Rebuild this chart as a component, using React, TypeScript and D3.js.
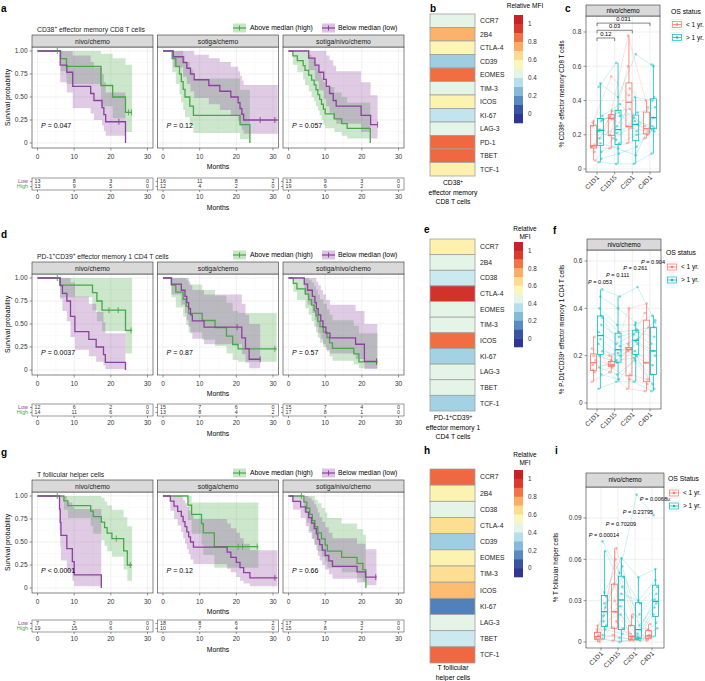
import React from "react";
import * as d3 from "d3";

const FONT = "'Liberation Sans', Arial, Helvetica, sans-serif";
const GREEN = "#47a847";
const PURPLE = "#8e3f9f";
const RED = "#F8766D";
const TEAL = "#00BFC4";
const DARK = "#333333";

// [months, survival, lower CI, upper CI]
type Step = [number, number, number, number];
type Curve = { steps: Step[]; end: number; censor: number[] };

const TREATMENTS = ["nivo/chemo", "sotiga/chemo", "sotiga/nivo/chemo"];
const MONTH_TICKS = [0, 10, 20, 30];

// ---------- a: CD38+ effector memory CD8 T cells
const aNivoHigh: Curve = { steps: [[6.3, .917, .78, 1], [7.9, .833, .64, 1], [17.3, .625, .4, .97], [20.5, .5, .27, .92], [24, .333, .12, .85]], end: 25.8, censor: [5.4, 24.8, 25.6] };
const aNivoLow: Curve = { steps: [[6.2, .846, .66, 1], [8, .769, .55, 1], [9.6, .615, .38, .95], [14.5, .538, .32, .88], [15.4, .462, .25, .82], [17.6, .385, .19, .75], [18.1, .308, .13, .66], [18.6, .231, .08, .55], [24, 0, 0, 0]], end: 24, censor: [22.2] };
const aSotHigh: Curve = { steps: [[2.5, .917, .77, 1], [3.5, .833, .64, 1], [4.5, .75, .53, 1], [5, .667, .44, 1], [5.5, .583, .36, .95], [6, .5, .28, .88], [7.3, .4, .19, .8], [8.3, .3, .11, .7], [21, .2, .04, .58], [23.7, 0, 0, 0]], end: 23.7, censor: [] };
const aSotLow: Curve = { steps: [[2.8, .9375, .82, 1], [5.5, .875, .72, 1], [6.5, .8125, .64, 1], [7.5, .75, .56, 1], [8.5, .6875, .49, .96], [12.5, .625, .42, .92], [15.5, .5625, .36, .88], [18.5, .5, .3, .83], [20.5, .4375, .24, .78], [21, .375, .19, .73], [21.5, .3125, .14, .68], [22, .25, .1, .63]], end: 31.3, censor: [26.5, 30.5] };
const aSnHigh: Curve = { steps: [[1.2, .947, .85, 1], [2.4, .895, .77, 1], [4, .842, .69, 1], [4.5, .789, .63, .99], [5.5, .737, .56, .96], [6.3, .684, .5, .93], [7, .632, .45, .89], [7.5, .579, .4, .85], [8, .526, .35, .8], [8.5, .474, .3, .76], [9, .421, .25, .71], [9.5, .368, .2, .66], [10, .316, .16, .61], [12.5, .263, .12, .55], [14.5, .21, .08, .5], [16, .158, .05, .44], [22.3, 0, 0, 0]], end: 22.3, censor: [] };
const aSnLow: Curve = { steps: [[5.5, .923, .79, 1], [7.2, .846, .67, 1], [8.3, .769, .57, 1], [9.6, .692, .48, 1], [10.3, .615, .4, .95], [11.2, .538, .33, .9], [12.2, .462, .26, .84], [13, .4, .21, .78], [19.8, .3, .12, .66], [22.4, .2, .05, .52]], end: 24.3, censor: [24.3] };

// ---------- d: PD-1+CD39+ effector memory 1 CD4 T cells
const dNivoHigh: Curve = { steps: [[6.1, .923, .79, 1], [15, .84, .65, 1], [16.2, .75, .53, 1], [17.6, .65, .42, 1], [24, .43, .18, 1]], end: 25.8, censor: [5.4, 19.5, 22, 25.5] };
const dNivoLow: Curve = { steps: [[6.2, .917, .77, 1], [6.8, .833, .64, 1], [8, .75, .53, 1], [9, .583, .36, .95], [10.2, .417, .22, .8], [14, .333, .15, .72], [16, .25, .09, .63], [18, .167, .05, .52], [18.5, .083, .01, .4], [24, 0, 0, 0]], end: 24, censor: [] };
const dSotHigh: Curve = { steps: [[2.3, .923, .79, 1], [3.5, .846, .68, 1], [5.5, .769, .58, 1], [6.3, .692, .49, .98], [7, .615, .41, .93], [10.7, .538, .33, .87], [14.2, .461, .26, .81], [17.3, .369, .18, .73], [19, .277, .11, .64], [20.5, .23, .09, .62]], end: 31, censor: [30.5] };
const dSotLow: Curve = { steps: [[2.3, .933, .82, 1], [5, .867, .71, 1], [6, .8, .62, 1], [6.5, .733, .54, 1], [7, .667, .47, .96], [7.5, .6, .4, .92], [8, .533, .34, .87], [11.2, .467, .28, .82], [21.5, .35, .17, .72], [22.5, .233, .08, .6], [23.5, .117, .02, .5]], end: 26.5, censor: [20.2, 26.5] };
const dSnHigh: Curve = { steps: [[1.3, .941, .85, 1], [2.3, .882, .76, 1], [4.6, .824, .67, 1], [5.5, .765, .6, .98], [6.3, .706, .53, .95], [7, .647, .47, .91], [7.5, .588, .41, .87], [8, .529, .35, .82], [8.6, .471, .3, .77], [9.5, .412, .25, .72], [10.5, .353, .2, .66], [11.2, .294, .15, .6], [12, .235, .1, .54], [17.8, .176, .06, .48], [19.2, .088, .02, .4]], end: 24.3, censor: [24] };
const dSnLow: Curve = { steps: [[4.3, .933, .82, 1], [5.2, .867, .71, 1], [6.5, .8, .62, 1], [7.2, .733, .54, 1], [7.6, .667, .47, .96], [8.1, .6, .4, .92], [8.8, .533, .34, .87], [9.4, .467, .28, .82], [10.2, .4, .22, .76], [11.3, .35, .18, .71], [18.3, .28, .12, .64], [20.7, .093, .01, .5]], end: 24.2, censor: [24] };

// ---------- g: T follicular helper cells
const gNivoHigh: Curve = { steps: [[7.2, .947, .85, 1], [8.3, .895, .76, 1], [14.5, .835, .67, 1], [15.2, .776, .59, 1], [17.4, .716, .52, .98], [18.3, .656, .46, .94], [19, .597, .4, .9], [20.3, .537, .34, .85], [23.5, .403, .2, .77], [24.5, .25, .08, .67]], end: 25.8, censor: [5.4, 21.5, 25.3] };
const gNivoLow: Curve = { steps: [[6, .857, .63, 1], [6.2, .714, .45, 1], [6.4, .571, .3, 1], [8, .429, .18, .93], [9.5, .286, .08, .88], [10, .143, .02, .86], [17.4, 0, 0, 0]], end: 17.4, censor: [] };
const gSotHigh: Curve = { steps: [[6.8, .9, .74, 1], [7.8, .8, .59, .93], [10.5, .7, .47, .93], [11, .6, .36, .93], [14, .45, .22, .93]], end: 26, censor: [20.5, 21.7, 25.7] };
const gSotLow: Curve = { steps: [[2, .944, .84, 1], [3, .889, .75, 1], [4, .833, .68, 1], [5, .778, .61, .99], [5.5, .722, .54, .96], [6, .667, .48, .92], [6.5, .611, .42, .88], [7, .556, .37, .84], [7.5, .5, .31, .8], [8.3, .444, .26, .75], [17.5, .389, .21, .7], [18.5, .333, .17, .65], [20, .278, .12, .6], [21, .222, .08, .54], [22, .167, .05, .48], [23.7, .111, .02, .41]], end: 31.2, censor: [30.5] };
const gSnHigh: Curve = { steps: [[4.2, .933, .82, 1], [5, .867, .71, 1], [5.8, .8, .62, 1], [6.5, .733, .54, 1], [7.2, .667, .47, .96], [8, .6, .4, .92], [9, .533, .34, .87], [10, .467, .28, .82], [10.6, .4, .22, .76], [14.5, .333, .17, .7], [18.7, .267, .11, .64], [20.3, .2, .07, .58], [21.1, 0, 0, 0]], end: 21.1, censor: [3.5] };
const gSnLow: Curve = { steps: [[1.2, .941, .85, 1], [3.3, .882, .76, 1], [4.7, .824, .67, 1], [5.5, .765, .6, .98], [6.3, .706, .53, .95], [7, .647, .47, .91], [7.6, .588, .41, .87], [8, .529, .35, .82], [8.5, .471, .3, .77], [9.2, .412, .25, .72], [10, .353, .2, .66], [11, .294, .15, .6], [12, .235, .1, .54], [18.7, .176, .06, .48], [21, .118, .03, .42]], end: 24, censor: [23.8] };

// number at risk [low, high] at 0/10/20/30 months
const riskA = [[[13, 8, 3, 0], [13, 9, 5, 0]], [[16, 11, 8, 2], [12, 4, 2, 0]], [[13, 9, 3, 0], [19, 6, 2, 0]]];
const riskD = [[[12, 6, 2, 0], [14, 11, 6, 0]], [[15, 7, 6, 0], [13, 8, 4, 2]], [[15, 7, 4, 0], [17, 8, 1, 0]]];
const riskG = [[[7, 2, 0, 0], [19, 15, 6, 0]], [[18, 8, 6, 2], [10, 7, 4, 0]], [[17, 7, 3, 0], [15, 8, 2, 0]]];

const pA = ["= 0.047", "= 0.12", "= 0.057"];
const pD = ["= 0.0037", "= 0.87", "= 0.57"];
const pG = ["< 0.0001", "= 0.12", "= 0.66"];

// ---------- heatmaps (relative MFI)
const markersB = ["CCR7", "2B4", "CTLA-4", "CD39", "EOMES", "TIM-3", "ICOS", "KI-67", "LAG-3", "PD-1", "TBET", "TCF-1"];
const mfiB = [0.45, 0.74, 0.56, 0.3, 0.86, 0.45, 0.57, 0.37, 0.45, 0.87, 0.87, 0.58];
const markersE = ["CCR7", "2B4", "CD38", "CTLA-4", "EOMES", "TIM-3", "ICOS", "KI-67", "LAG-3", "TBET", "TCF-1"];
const mfiE = [0.58, 0.45, 0.39, 0.97, 0.45, 0.45, 0.86, 0.31, 0.45, 0.45, 0.31];
const markersH = ["CCR7", "2B4", "CD38", "CTLA-4", "CD39", "EOMES", "TIM-3", "ICOS", "KI-67", "LAG-3", "TBET", "TCF-1"];
const mfiH = [0.87, 0.57, 0.45, 0.64, 0.3, 0.57, 0.64, 0.72, 0.13, 0.45, 0.39, 0.87];

// ---------- boxplots: per patient values at C1D1, C1D15, C2D1, C4D1
const TIMEPOINTS = ["C1D1", "C1D15", "C2D1", "C4D1"];
type Pat = (number | null)[];
const cUnder: Pat[] = [[0.13, 0.3, 0.25, 0.25], [0.14, 0.29, 0.47, 0.36], [0.25, 0.31, 0.78, 0.4], [0.05, 0.18, 0.24, 0.22], [0.28, 0.54, 0.43, null], [0.13, 0.12, 0.15, 0.18], [0.1, 0.34, 0.35, 0.2], [0.27, 0.2, 0.6, null]];
const cOver: Pat[] = [[0.04, 0.03, 0.03, 0.09], [0.1, 0.15, 0.2, 0.22], [0.23, 0.21, 0.28, 0.25], [0.29, 0.31, 0.33, 0.36], [0.5, 0.42, 0.67, 0.6], [0.48, 0.62, null, 0.61], [0.06, 0.09, 0.13, 0.24], [0.18, 0.25, 0.42, 0.4], [0.31, 0.38, 0.26, null], [0.15, 0.12, 0.08, 0.3], [0.22, 0.17, 0.3, 0.23], [0.28, 0.33, 0.22, 0.42]];
const fUnder: Pat[] = [[0.09, 0.13, 0.06, 0.05], [0.13, 0.15, 0.1, 0.08], [0.16, 0.16, 0.22, 0.17], [0.18, 0.16, 0.23, 0.32], [0.2, 0.18, 0.4, 0.42], [0.23, 0.2, 0.23, 0.38], [0.28, null, 0.12, 0.1], [0.14, 0.17, 0.25, null]];
const fOver: Pat[] = [[0.06, 0.09, 0.09, 0.05], [0.12, 0.1, 0.2, 0.06], [0.2, 0.17, 0.22, 0.16], [0.22, 0.2, 0.25, 0.2], [0.27, 0.21, 0.26, 0.22], [0.3, 0.25, 0.29, 0.25], [0.37, 0.3, 0.31, 0.32], [0.4, 0.33, 0.33, 0.37], [0.48, 0.45, 0.49, 0.34], [0.45, 0.4, 0.34, null], [0.25, 0.18, 0.19, 0.12], [0.33, 0.28, 0.3, 0.28], [0.15, 0.12, 0.18, 0.08], [0.36, 0.24, 0.27, 0.35]];
const iUnder: Pat[] = [[0.002, 0.005, 0.002, 0.002], [0.004, 0.022, 0.004, 0.005], [0.007, 0.042, 0.012, 0.009], [0.001, 0.068, 0.02, 0.013], [0.012, 0.03, 0.003, 0.004], [0.003, 0.001, 0.001, 0.001], [0.005, 0.06, 0.018, 0.008], [0.009, 0.01, 0.006, null], [0.0, 0.015, 0.001, 0.003]];
const iOver: Pat[] = [[0.002, 0.0, 0.002, 0.004], [0.009, 0.006, 0.003, 0.014], [0.019, 0.026, 0.006, 0.031], [0.033, 0.047, 0.028, 0.04], [0.036, 0.061, 0.047, 0.053], [0.073, 0.05, 0.107, 0.092], [0.066, 0.04, 0.02, 0.035], [0.015, 0.02, 0.004, 0.025], [0.012, 0.01, 0.001, 0.01], [0.028, 0.035, 0.03, 0.045], [0.005, 0.003, 0.002, 0.02], [0.025, 0.055, 0.012, 0.028]];

const cBrackets = [{ from: "C1D1", to: "C1D15", v: 0.765, label: "0.12" }, { from: "C1D1", to: "C2D1", v: 0.81, label: "0.03" }, { from: "C1D1", to: "C4D1", v: 0.852, label: "0.031" }];
const fPvals = [{ cat: "C1D1", v: 0.511, label: "0.053" }, { cat: "C1D15", v: 0.541, label: "0.111" }, { cat: "C2D1", v: 0.57, label: "0.261" }, { cat: "C4D1", v: 0.596, label: "0.904" }];
const iPvals = [{ cat: "C1D1", v: 0.0777, label: "0.00014" }, { cat: "C1D15", v: 0.0856, label: "0.70209" }, { cat: "C2D1", v: 0.0944, label: "0.23795" }, { cat: "C4D1", v: 0.1038, label: "0.00680" }];

const PANEL_X = [32, 157.5, 283];
const PW = 121;

// text with "^+" superscripts
function Rich({ text, ...props }: any) {
  const parts = text.split("^+");
  const out: any[] = [];
  parts.forEach((p: string, i: number) => {
    if (i > 0) out.push(<tspan key={"s" + i} dy={-2.2} fontSize="70%">+</tspan>);
    out.push(<tspan key={"t" + i} dy={i > 0 ? 2.2 : 0}>{p}</tspan>);
  });
  return <text {...props}>{out}</text>;
}

function KMKey({ x, y, color, fill }: any) {
  return (
    <g>
      <rect x={x} y={y - 4.5} width={13} height={9} fill={fill} />
      <line x1={x} x2={x + 13} y1={y} y2={y} stroke={color} strokeWidth={1.2} />
      <line x1={x + 6.5} x2={x + 6.5} y1={y - 2.5} y2={y + 2.5} stroke={color} strokeWidth={1} />
    </g>
  );
}

function KMRow({ off, tableTop, letter, letterY, title, curves, pvals, risk }: any) {
  const y = d3.scaleLinear().domain([0, 1]).range([143 + off, 51 + off]);
  const stripTop = 35 + off, plotTop = 47 + off, plotBottom = 148 + off;
  const yTicks = [0, 0.25, 0.5, 0.75, 1];
  const yMinor = [0.125, 0.375, 0.625, 0.875];
  const legY = 28 + off;
  return (
    <g>
      <text x={1} y={letterY} fontSize={10} fontWeight="bold">{letter}</text>
      <Rich x={37} y={off + 31.5} fontSize={6.8} fill="#222" text={title} />
      <KMKey x={233} y={legY} color={GREEN} fill="#c8e6c4" />
      <text x={250} y={legY + 2.4} fontSize={6.8}>Above median (high)</text>
      <KMKey x={322} y={legY} color={PURPLE} fill="#dcc3e3" />
      <text x={338} y={legY + 2.4} fontSize={6.8}>Below median (low)</text>
      <text transform={`translate(10,${(plotTop + plotBottom) / 2}) rotate(-90)`} textAnchor="middle" fontSize={6.8}>Survival probability</text>
      {yTicks.map((t) => (
        <g key={t}>
          <text x={PANEL_X[0] - 4.5} y={y(t) + 2.3} textAnchor="end" fontSize={6.5} fill="#333">{t === 0 ? "0" : t.toFixed(2)}</text>
          <line x1={PANEL_X[0] - 2.5} x2={PANEL_X[0]} y1={y(t)} y2={y(t)} stroke={DARK} strokeWidth={0.5} />
        </g>
      ))}
      <text x={PANEL_X[1] + PW / 2} y={plotBottom + 20.5} textAnchor="middle" fontSize={6.8}>Months</text>
      <text x={PANEL_X[1] + PW / 2} y={tableTop + 31.5} textAnchor="middle" fontSize={6.8}>Months</text>
      <text x={28} y={tableTop + 5} textAnchor="end" fontSize={5.5} fill={PURPLE}>Low</text>
      <text x={28} y={tableTop + 10.3} textAnchor="end" fontSize={5.5} fill={GREEN}>High</text>
      {TREATMENTS.map((tr, pi) => {
        const x0 = PANEL_X[pi];
        const x = d3.scaleLinear().domain([-1.5, 31.5]).range([x0, x0 + PW]);
        const [high, low] = curves[pi];
        const line = d3.line<number[]>().x((d) => x(d[0])).y((d) => y(d[1])).curve(d3.curveStepAfter);
        const area = d3.area<number[]>().x((d) => x(d[0])).y0((d) => y(d[1])).y1((d) => y(d[2])).curve(d3.curveStepAfter);
        const linePts = (c: Curve) => {
          const pts = [[0, 1], ...c.steps.map((s) => [s[0], s[1]])];
          const last = c.steps[c.steps.length - 1];
          if (last[1] > 0) pts.push([c.end, last[1]]);
          return pts;
        };
        const bandPts = (c: Curve) => {
          const st = c.steps.filter((s) => s[1] > 0);
          const pts = [[0, 1, 1], ...st.map((s) => [s[0], s[2], s[3]])];
          const last = pts[pts.length - 1];
          pts.push([c.end, last[1], last[2]]);
          return pts;
        };
        const censorMarks = (c: Curve, color: string) =>
          c.censor.map((t, k) => {
            let s = 1;
            c.steps.forEach((st) => { if (st[0] <= t) s = st[1]; });
            return <line key={k} x1={x(t)} x2={x(t)} y1={y(s) - 3} y2={y(s) + 3} stroke={color} strokeWidth={0.9} />;
          });
        return (
          <g key={tr}>
            <rect x={x0} y={plotTop} width={PW} height={plotBottom - plotTop} fill="#fff" />
            {[5, 15, 25].map((m) => <line key={"vm" + m} x1={x(m)} x2={x(m)} y1={plotTop} y2={plotBottom} stroke="#f3f3f3" strokeWidth={0.4} />)}
            {yMinor.map((m) => <line key={"hm" + m} x1={x0} x2={x0 + PW} y1={y(m)} y2={y(m)} stroke="#f3f3f3" strokeWidth={0.4} />)}
            {MONTH_TICKS.map((m) => <line key={"v" + m} x1={x(m)} x2={x(m)} y1={plotTop} y2={plotBottom} stroke="#e6e6e6" strokeWidth={0.6} />)}
            {yTicks.map((m) => <line key={"h" + m} x1={x0} x2={x0 + PW} y1={y(m)} y2={y(m)} stroke="#e6e6e6" strokeWidth={0.6} />)}
            <path d={area(bandPts(high)) || ""} fill={GREEN} fillOpacity={0.27} />
            <path d={area(bandPts(low)) || ""} fill={PURPLE} fillOpacity={0.27} />
            <path d={line(linePts(high)) || ""} fill="none" stroke={GREEN} strokeWidth={1.3} />
            <path d={line(linePts(low)) || ""} fill="none" stroke={PURPLE} strokeWidth={1.3} />
            {censorMarks(high, GREEN)}
            {censorMarks(low, PURPLE)}
            <text x={x0 + 9} y={y(0.16)} fontSize={7}>
              <tspan fontStyle="italic">P</tspan> {pvals[pi]}
            </text>
            <rect x={x0} y={plotTop} width={PW} height={plotBottom - plotTop} fill="none" stroke={DARK} strokeWidth={0.6} />
            <rect x={x0} y={stripTop} width={PW} height={plotTop - stripTop} fill="#d9d9d9" stroke={DARK} strokeWidth={0.6} />
            <text x={x0 + PW / 2} y={stripTop + 8.5} textAnchor="middle" fontSize={6.8} fill="#1a1a1a">{tr}</text>
            {MONTH_TICKS.map((m) => (
              <g key={"t" + m}>
                <line x1={x(m)} x2={x(m)} y1={plotBottom} y2={plotBottom + 2.5} stroke={DARK} strokeWidth={0.5} />
                <text x={x(m)} y={plotBottom + 10.5} textAnchor="middle" fontSize={6.5} fill="#333">{m}</text>
              </g>
            ))}
            <rect x={x0} y={tableTop} width={PW} height={12} fill="#fff" stroke="#555" strokeWidth={0.6} />
            <line x1={x0 - 2} x2={x0} y1={tableTop + 3.5} y2={tableTop + 3.5} stroke={DARK} strokeWidth={0.5} />
            <line x1={x0 - 2} x2={x0} y1={tableTop + 8.5} y2={tableTop + 8.5} stroke={DARK} strokeWidth={0.5} />
            {MONTH_TICKS.map((m, k) => (
              <g key={"r" + m}>
                <text x={x(m)} y={tableTop + 5} textAnchor="middle" fontSize={5.3} fill="#333">{risk[pi][0][k]}</text>
                <text x={x(m)} y={tableTop + 10.3} textAnchor="middle" fontSize={5.3} fill="#333">{risk[pi][1][k]}</text>
                <line x1={x(m)} x2={x(m)} y1={tableTop + 12} y2={tableTop + 14} stroke={DARK} strokeWidth={0.5} />
                <text x={x(m)} y={tableTop + 21} textAnchor="middle" fontSize={6.5} fill="#333">{m}</text>
              </g>
            ))}
          </g>
        );
      })}
    </g>
  );
}

// reversed RdYlBu, top end kept a little lighter than the darkest red
const mfiColor = (v: number) => d3.interpolateRdYlBu(1 - 0.93 * Math.max(0, Math.min(1, v)));

function Heatmap({ top, bottom, markers, values, caption, capY }: any) {
  const y = d3.scaleBand().domain(markers).range([top, bottom]);
  return (
    <g>
      {markers.map((m: string, i: number) => (
        <g key={m}>
          <rect x={430} y={y(m)} width={45} height={y.bandwidth()} fill={mfiColor(values[i])} stroke="#a0a0a0" strokeWidth={0.8} />
          <text x={480} y={(y(m) as number) + y.bandwidth() / 2 + 2.4} fontSize={6.8} fill="#222">{m}</text>
        </g>
      ))}
      {caption.map((c: string, i: number) => (
        <Rich key={i} x={453} y={capY + i * 9.5} textAnchor="middle" fontSize={6.8} text={c} />
      ))}
    </g>
  );
}

function ColorBar({ top, bottom, titles, titleY }: any) {
  const steps = d3.range(12).map((k) => 1.1 - k * 0.1);
  const y = d3.scaleLinear().domain([1.1, -0.1]).range([top, bottom]);
  return (
    <g>
      {titles.map((t: string, i: number) => (
        <text key={t} x={525} y={titleY + i * 8} textAnchor="middle" fontSize={6.5}>{t}</text>
      ))}
      {steps.map((s) => (
        <rect key={s} x={514} y={y(s)} width={9} height={y(s - 0.1) - y(s) + 0.3} fill={mfiColor(s - 0.05)} />
      ))}
      {[0, 0.2, 0.4, 0.6, 0.8, 1].map((t) => (
        <text key={t} x={528} y={y(t) + 2.3} fontSize={6.3} fill="#333">{t === 0 || t === 1 ? String(t) : t.toFixed(1)}</text>
      ))}
    </g>
  );
}

function boxStats(vals: number[]) {
  const s = vals.slice().sort(d3.ascending);
  const q1 = d3.quantile(s, 0.25) as number;
  const med = d3.quantile(s, 0.5) as number;
  const q3 = d3.quantile(s, 0.75) as number;
  const iqr = q3 - q1;
  const lo = d3.min(s.filter((v) => v >= q1 - 1.5 * iqr)) as number;
  const hi = d3.max(s.filter((v) => v <= q3 + 1.5 * iqr)) as number;
  return { q1, med, q3, lo, hi };
}

function BoxKey({ x, y, color }: any) {
  return (
    <g>
      <rect x={x} y={y - 5} width={12} height={10} fill="#fff" stroke="#ddd" strokeWidth={0.4} />
      <rect x={x + 1.5} y={y - 3} width={9} height={6} fill="none" stroke={color} strokeWidth={0.7} />
      <line x1={x + 1.5} x2={x + 10.5} y1={y} y2={y} stroke={color} strokeWidth={0.8} />
      <circle cx={x + 6} cy={y} r={1.2} fill={color} />
    </g>
  );
}

function BoxPanel({ c }: any) {
  const y = d3.scaleLinear().domain(c.domain).range(c.range);
  const x = d3.scalePoint<string>().domain(TIMEPOINTS).range(c.xRange);
  const groups = [
    { pats: c.under, color: RED, dx: -3.4 },
    { pats: c.over, color: TEAL, dx: 3.4 },
  ];
  const minor = c.ticks.slice(0, -1).map((t: number, i: number) => (t + c.ticks[i + 1]) / 2);
  const jit = (pi: number) => (((pi * 3) % 5) - 2) * 0.9;
  return (
    <g>
      <text x={c.letterX} y={c.letterY} fontSize={10} fontWeight="bold">{c.letter}</text>
      <rect x={c.left} y={c.top} width={c.right - c.left} height={c.bottom - c.top} fill="#fff" />
      {minor.map((t: number) => <line key={"m" + t} x1={c.left} x2={c.right} y1={y(t)} y2={y(t)} stroke="#f3f3f3" strokeWidth={0.4} />)}
      {c.ticks.map((t: number) => <line key={"g" + t} x1={c.left} x2={c.right} y1={y(t)} y2={y(t)} stroke="#e6e6e6" strokeWidth={0.6} />)}
      {TIMEPOINTS.map((tp) => <line key={tp} x1={x(tp)} x2={x(tp)} y1={c.top} y2={c.bottom} stroke="#e6e6e6" strokeWidth={0.6} />)}
      {groups.map((g, gi) => {
        const line = d3
          .line<any>()
          .defined((d) => d != null)
          .x((d, i) => (x(TIMEPOINTS[i]) as number) + g.dx)
          .y((d) => y(d));
        return (
          <g key={"l" + gi}>
            {g.pats.map((p: Pat, pi: number) => (
              <path key={pi} d={line(p) || ""} transform={`translate(${jit(pi)},0)`} fill="none" stroke={g.color} strokeOpacity={0.35} strokeWidth={0.6} />
            ))}
          </g>
        );
      })}
      {groups.map((g, gi) =>
        TIMEPOINTS.map((tp, ti) => {
          const vals = g.pats.map((p: Pat) => p[ti]).filter((v: any) => v != null) as number[];
          const st = boxStats(vals);
          const cx = (x(tp) as number) + g.dx;
          return (
            <g key={gi + tp}>
              <line x1={cx} x2={cx} y1={y(st.hi)} y2={y(st.q3)} stroke={g.color} strokeWidth={0.8} />
              <line x1={cx} x2={cx} y1={y(st.q1)} y2={y(st.lo)} stroke={g.color} strokeWidth={0.8} />
              <rect x={cx - 3} y={y(st.q3)} width={6} height={y(st.q1) - y(st.q3)} fill="none" stroke={g.color} strokeWidth={0.8} />
              <line x1={cx - 3} x2={cx + 3} y1={y(st.med)} y2={y(st.med)} stroke={g.color} strokeWidth={1.3} />
              {g.pats.map((p: Pat, pi: number) =>
                p[ti] == null ? null : (
                  <circle key={pi} cx={cx + jit(pi)} cy={y(p[ti] as number)} r={1.3} fill={g.color} fillOpacity={0.5} />
                )
              )}
            </g>
          );
        })
      )}
      {(c.brackets || []).map((b: any) => (
        <g key={b.label}>
          <path d={`M${x(b.from)},${y(b.v) + 3}V${y(b.v)}H${x(b.to)}V${y(b.v) + 3}`} fill="none" stroke="#333" strokeWidth={0.6} />
          <text x={((x(b.from) as number) + (x(b.to) as number)) / 2} y={y(b.v) - 1.8} textAnchor="middle" fontSize={5.8}>{b.label}</text>
        </g>
      ))}
      {(c.pvals || []).map((p: any) => (
        <text key={p.label} x={(x(p.cat) as number) + 3} y={y(p.v) + 2} textAnchor="middle" fontSize={5.6}>
          <tspan fontStyle="italic">P</tspan> = {p.label}
        </text>
      ))}
      <rect x={c.left} y={c.top} width={c.right - c.left} height={c.bottom - c.top} fill="none" stroke={DARK} strokeWidth={0.6} />
      <rect x={c.left} y={c.stripTop} width={c.right - c.left} height={c.top - c.stripTop} fill="#d9d9d9" stroke={DARK} strokeWidth={0.6} />
      <text x={(c.left + c.right) / 2} y={(c.stripTop + c.top) / 2 + 2.3} textAnchor="middle" fontSize={6.5}>nivo/chemo</text>
      {c.ticks.map((t: number) => (
        <g key={"t" + t}>
          <line x1={c.left - 2.5} x2={c.left} y1={y(t)} y2={y(t)} stroke={DARK} strokeWidth={0.5} />
          <text x={c.left - 4.5} y={y(t) + 2.3} textAnchor="end" fontSize={6.5} fill="#333">{c.fmt(t)}</text>
        </g>
      ))}
      {TIMEPOINTS.map((tp) => (
        <g key={"x" + tp}>
          <line x1={x(tp)} x2={x(tp)} y1={c.bottom} y2={c.bottom + 2.5} stroke={DARK} strokeWidth={0.5} />
          <text transform={`translate(${(x(tp) as number) + 2.5},${c.bottom + 6}) rotate(-45)`} textAnchor="end" fontSize={6.5} fill="#333">{tp}</text>
        </g>
      ))}
      <Rich transform={`translate(${c.yTitleX},${(c.top + c.bottom) / 2}) rotate(-90)`} textAnchor="middle" fontSize={6.3} text={c.yTitle} />
      <text x={c.legendX} y={c.legendY + 2.3} fontSize={6.8}>{c.legendTitle}</text>
      <BoxKey x={c.legendX} y={c.keyY[0]} color={RED} />
      <text x={c.legendX + 15} y={c.keyY[0] + 2.3} fontSize={6.5}>{"< 1 yr."}</text>
      <BoxKey x={c.legendX} y={c.keyY[1]} color={TEAL} />
      <text x={c.legendX + 15} y={c.keyY[1] + 2.3} fontSize={6.5}>{"> 1 yr."}</text>
    </g>
  );
}

const fmt1 = (t: number) => (t === 0 ? "0" : t.toFixed(1));
const fmt2 = (t: number) => (t === 0 ? "0" : t.toFixed(2));

const boxC = { letter: "c", letterX: 565, letterY: 12, left: 586, right: 660, stripTop: 5, top: 16, bottom: 172, domain: [0, 0.8], range: [169, 32], ticks: [0, 0.2, 0.4, 0.6, 0.8], fmt: fmt1, xRange: [597, 650], yTitleX: 564, yTitle: "% CD38^+ effector memory CD8 T cells", legendX: 671, legendY: 12, keyY: [24.5, 37.5], legendTitle: "OS status", under: cUnder, over: cOver, brackets: cBrackets };
const boxF = { letter: "f", letterX: 553, letterY: 234, left: 587, right: 661, stripTop: 239, top: 250, bottom: 409, domain: [0, 0.6], range: [403, 261], ticks: [0, 0.2, 0.4, 0.6], fmt: fmt1, xRange: [597, 650], yTitleX: 564, yTitle: "% P-D1^+CD39^+ effector memory 1 CD4 T cells", legendX: 666, legendY: 253, keyY: [267, 280], legendTitle: "OS status", under: fUnder, over: fOver, pvals: fPvals };
const boxI = { letter: "i", letterX: 555, letterY: 454, left: 586, right: 664, stripTop: 473, top: 487, bottom: 648, domain: [0, 0.09], range: [642, 518], ticks: [0, 0.03, 0.06, 0.09], fmt: fmt2, xRange: [601, 652], yTitleX: 558, yTitle: "% T follicular helper cells", legendX: 668, legendY: 479, keyY: [493, 506], legendTitle: "OS Status", under: iUnder, over: iOver, pvals: iPvals };

export default function App() {
  return (
    <svg width={705} height={681} style={{ position: "absolute", left: 0, top: 0, background: "#fff" }} fontFamily={FONT}>
      <KMRow off={0} tableTop={178} letter="a" letterY={12} title="CD38^+ effector memory CD8 T cells"
        curves={[[aNivoHigh, aNivoLow], [aSotHigh, aSotLow], [aSnHigh, aSnLow]]} pvals={pA} risk={riskA} />
      <KMRow off={227} tableTop={404} letter="d" letterY={238} title="PD-1^+CD39^+ effector memory 1 CD4 T cells"
        curves={[[dNivoHigh, dNivoLow], [dSotHigh, dSotLow], [dSnHigh, dSnLow]]} pvals={pD} risk={riskD} />
      <KMRow off={445} tableTop={620} letter="g" letterY={456} title="T follicular helper cells"
        curves={[[gNivoHigh, gNivoLow], [gSotHigh, gSotLow], [gSnHigh, gSnLow]]} pvals={pG} risk={riskG} />

      <text x={430} y={12} fontSize={10} fontWeight="bold">b</text>
      <Heatmap top={14} bottom={176} markers={markersB} values={mfiB} caption={["CD38^+", "effector memory", "CD8 T cells"]} capY={185} />
      <ColorBar top={15} bottom={123} titles={["Relative MFI"]} titleY={8} />

      <text x={424} y={233} fontSize={10} fontWeight="bold">e</text>
      <Heatmap top={239} bottom={411} markers={markersE} values={mfiE} caption={["PD-1^+CD39^+", "effector memory 1", "CD4 T cells"]} capY={420} />
      <ColorBar top={242} bottom={347} titles={["Relative", "MFI"]} titleY={231} />

      <text x={424} y={454} fontSize={10} fontWeight="bold">h</text>
      <Heatmap top={469} bottom={663} markers={markersH} values={mfiH} caption={["T follicular", "helper cells"]} capY={670} />
      <ColorBar top={470} bottom={577} titles={["Relative", "MFI"]} titleY={457} />

      <BoxPanel c={boxC} />
      <BoxPanel c={boxF} />
      <BoxPanel c={boxI} />
    </svg>
  );
}
